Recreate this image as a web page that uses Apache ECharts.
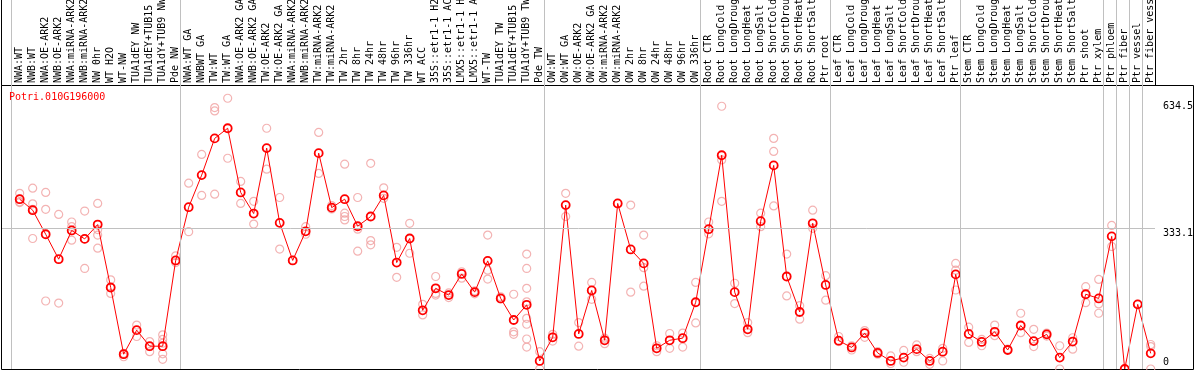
<!DOCTYPE html>
<html>
<head>
<meta charset="utf-8">
<script src="https://cdn.jsdelivr.net/npm/echarts@6/dist/echarts.min.js"></script>
<style>
html,body{margin:0;padding:0;background:#fff;}
#chart{width:1194px;height:370px;}
</style>
</head>
<body>
<div id="chart"></div>
<script>
var geneName = 'Potri.010G196000';

var categories = [
  'NWA:WT','NWB:WT','NWA:OE-ARK2','NWB:OE-ARK2','NWA:miRNA-ARK2','NWB:miRNA-ARK2','NW 0hr','WT H2O','WT-NW','TUA1dEY NW','TUA1dEY+TUB15','TUA1dY+TUB9 NW','Pde NW',
  'NWA:WT GA','NWBWT GA','TW:WT','TW:WT GA','NWA:OE-ARK2 GA','NWB:OE-ARK2 GA','TW:OE-ARK2','TW:OE-ARK2 GA','NWA:miRNA-ARK2','NWB:miRNA-ARK2','TW:miRNA-ARK2','TW:miRNA-ARK2','TW 2hr','TW 8hr','TW 24hr','TW 48hr','TW 96hr','TW 336hr','WT ACC','35S::etr1-1 H2','35S::etr1-1 AC','LMX5::etr1-1 H','LMX5::etr1-1 A','WT-TW','TUA1dEY TW','TUA1dEY+TUB15','TUA1dY+TUB9 TW','Pde TW',
  'OW:WT','OW:WT GA','OW:OE-ARK2','OW:OE-ARK2 GA','OW:miRNA-ARK2','OW:miRNA-ARK2','OW 2hr','OW 8hr','OW 24hr','OW 48hr','OW 96hr','OW 336hr',
  'Root CTR','Root LongCold','Root LongDroug','Root LongHeat','Root LongSalt','Root ShortCold','Root ShortDrou','Root ShortHeat','Root ShortSalt','Ptr root',
  'Leaf CTR','Leaf LongCold','Leaf LongDroug','Leaf LongHeat','Leaf LongSalt','Leaf ShortCold','Leaf ShortDrou','Leaf ShortHeat','Leaf ShortSalt','Ptr leaf',
  'Stem CTR','Stem LongCold','Stem LongDroug','Stem LongHeat','Stem LongSalt','Stem ShortCold','Stem ShortDrou','Stem ShortHeat','Stem ShortSalt','Ptr shoot','Ptr xylem',
  'Ptr phloem','Ptr fiber','Ptr vessel','Ptr fiber vess'
];

var means = [
  402,376,319,260,328,308,342,193,35,92,54,54,257,
  383,459,546,570,418,368,523,346,257,326,511,382,402,338,361,411,252,309,139,191,175,225,182,256,167,116,152,19,
  75,388,83,186,68,392,283,250,49,68,73,158,
  331,506,182,94,350,482,219,135,345,199,
  67,51,85,38,19,27,47,19,41,224,
  83,64,88,45,103,66,82,27,65,177,167,
  314,0,153,37
];

var replicates = [
  [416,402,396,394],[428,391,378,309],[418,378,161],[366,156],[348,337,305],[374,308,238],[392,330,317,286],[211,193,179],[37,35,29],[104,77],[65,53,41],[81,70,61,36,23],[268,252],
  [440,325],[508,411],[619,611,414],[641,499],[444,392],[397,343],[570,473],[406,284],[257],[337,319],[560,463],[387,379],[485,369,361,353],[406,331,279],[487,304,294],[429,404],[288,217],[345,274],[153,128],[219,179,175],[180,169],[230,215],[185,178],[317,234,213],[171,166],[177,88,82],[272,238,191,159,120,106,71,52],[41,0],
  [82,66],[416,361],[110,54],[205,165],[73,60],[392],[388,182],[317,240,196],[55,41],[84,49],[85,52],[205,109],
  [348,320],[622,495,397],[203,155],[110,86],[369,337],[546,515,386],[272,173],[150,118],[376,333],[221,163],
  [77,65],[55,45],[91,75],[41,35],[31,13],[44,16],[57,41],[25,11],[49,19],[250,234,187],
  [99,63],[70,55],[104,79],[47],[132,86],[94,53],[85,78],[55,0],[74,47],[195,157],[212,154,132],
  [340,290],[0],[153],[58,53,0]
];

var yTicks = [0, 333.1, 634.5];
var gridValues = [333.1];
var groupEndsAfter = [-1, 12, 40, 52, 62, 72, 83, 84, 85, 86, 87];

var FONT = 'DejaVu Sans Mono';

var meanData = means.map(function (v, i) { return [i, v]; });
var repData = [];
replicates.forEach(function (arr, i) {
  arr.forEach(function (v) { repData.push([i, v]); });
});

var sepLines = groupEndsAfter.map(function (i) { return { xAxis: i + 0.37 }; });
var hLines = gridValues.map(function (v) { return { yAxis: v }; });

var chart = echarts.init(document.getElementById('chart'), null, { renderer: 'canvas' });

chart.setOption({
  animation: false,
  backgroundColor: '#ffffff',
  title: {
    text: geneName,
    left: 9, top: 92, padding: 0,
    textStyle: { color: '#ff0000', fontFamily: FONT, fontSize: 10, fontWeight: 'normal' }
  },
  grid: [
    { left: 2, right: 39, top: 0, bottom: 1, show: false, outerBoundsMode: 'none', containLabel: false },
    { left: 1.5, right: 0.5, top: 85.5, bottom: 0.5, show: true, borderColor: '#000', borderWidth: 1, backgroundColor: 'transparent', outerBoundsMode: 'none' },
    { left: 1.5, right: 38.5, top: -2, bottom: 284.5, show: true, borderColor: '#000', borderWidth: 1, backgroundColor: 'transparent', outerBoundsMode: 'none' }
  ],
  xAxis: [{
    type: 'value',
    gridIndex: 0,
    position: 'top',
    offset: -85,
    min: -1.36,
    max: 87.33,
    axisLine: { show: false },
    axisTick: { show: false },
    splitLine: { show: false },
    axisLabel: {
      customValues: categories.map(function (c, i) { return i; }),
      formatter: function (v) { return categories[Math.round(v)]; },
      rotate: 90,
      margin: 2,
      color: '#000',
      fontFamily: FONT,
      fontSize: 10
    }
  }],
  yAxis: [{
    type: 'value',
    gridIndex: 0,
    position: 'right',
    min: 0,
    max: 873.6,
    axisLine: { show: false },
    axisTick: { show: false },
    splitLine: { show: false },
    axisLabel: {
      customValues: yTicks,
      margin: 8,
      color: '#000',
      fontFamily: FONT,
      fontSize: 10,
      formatter: function (v) { return v === 0 ? '{b|' + v + '}' : '{t|' + v + '}'; },
      rich: {
        t: { padding: [10, 0, 0, 0], fontFamily: FONT, fontSize: 10, color: '#000' },
        b: { padding: [0, 0, 14, 0], fontFamily: FONT, fontSize: 10, color: '#000' }
      }
    }
  }],
  series: [
    {
      name: 'replicates',
      type: 'scatter',
      xAxisIndex: 0, yAxisIndex: 0,
      data: repData,
      symbol: 'circle',
      symbolSize: 8,
      z: 2,
      itemStyle: { color: 'rgba(0,0,0,0)', borderColor: '#f0a0a0', borderWidth: 1.2 },
      emphasis: { disabled: true },
      markLine: {
        silent: true,
        symbol: ['none', 'none'],
        label: { show: false },
        lineStyle: { color: '#c0c0c0', width: 1, type: 'solid' },
        emphasis: { disabled: true },
        data: sepLines.concat(hLines)
      }
    },
    {
      name: 'mean',
      type: 'line',
      xAxisIndex: 0, yAxisIndex: 0,
      data: meanData,
      symbol: 'circle',
      symbolSize: 8,
      showAllSymbol: true,
      z: 3,
      lineStyle: { color: '#ff0000', width: 1 },
      itemStyle: { color: 'rgba(0,0,0,0)', borderColor: '#ff0000', borderWidth: 1.8 },
      emphasis: { disabled: true }
    }
  ]
});
</script>
</body>
</html>
